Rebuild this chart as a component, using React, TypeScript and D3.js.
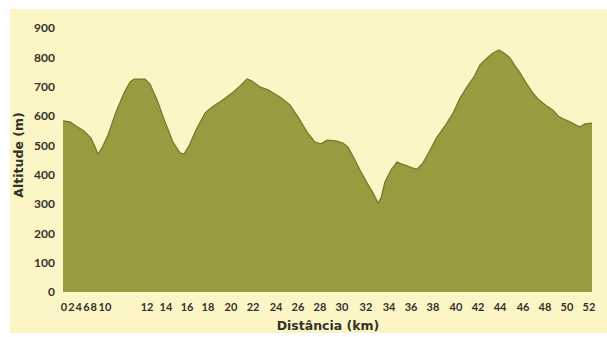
import React, { useEffect, useRef } from "react";
import * as d3 from "d3";

// Elevation profile: distance (km along the drawn axis) and altitude (m)
const distanceKm = [
  0, 0.69, 1.28, 2.06, 2.75, 3.15, 3.44, 3.83, 4.42, 5.21, 6.0, 6.59, 6.98, 8.06, 8.55, 9.24,
  10.03, 10.81, 11.5, 11.89, 12.39, 13.07, 13.96, 14.65, 15.73, 16.61, 17.4, 18.09, 18.58, 19.36,
  20.15, 21.33, 22.31, 23.1, 23.98, 24.77, 25.36, 25.95, 26.84, 27.52, 28.02, 28.6, 29.19, 29.88,
  30.47, 30.96, 31.26, 31.65, 32.24, 32.83, 33.32, 33.81, 34.31, 34.8, 35.39, 36.08, 36.76, 37.55,
  38.34, 39.03, 39.71, 40.4, 40.99, 41.68, 42.27, 42.86, 43.35, 43.94, 44.43, 44.93, 45.52, 46.2,
  46.69, 47.18, 47.68, 48.17, 48.66, 49.15, 49.84, 50.43, 50.82, 51.31, 52,
];
const altitudeM = [
  583, 580, 566, 549, 525, 494, 470, 491, 535, 614, 678, 716, 726, 726, 709, 655,
  580, 511, 474, 470, 498, 552, 610, 631, 655, 678, 702, 726, 719, 699,
  689, 665, 638, 597, 546, 511, 505, 518, 515, 508, 494, 457, 416, 372,
  338, 303, 320, 375, 416, 443, 436, 430, 423, 419, 440, 484, 528, 566,
  610, 661, 699, 733, 774, 798, 815, 825, 815, 798, 771, 747, 713, 678,
  658, 644, 631, 620, 600, 590, 580, 569, 563, 573, 576,
];

// X tick labels as printed, and where along the axis each one sits
const xTickLabels = [
  "0", "2", "4", "6", "8", "10", "12", "14", "16", "18", "20", "22", "24", "26",
  "28", "30", "32", "34", "36", "38", "40", "42", "44", "46", "48", "50", "52",
];
const xTickAtKm = [
  0.1, 0.82, 1.55, 2.3, 3.02, 4.12, 8.26, 10.12, 12.19, 14.25, 16.51, 18.68, 20.94, 23.1,
  25.26, 27.42, 29.78, 32.05, 34.21, 36.37, 38.63, 40.8, 42.96, 45.22, 47.38, 49.54, 51.7,
];
const yTicks = [0, 100, 200, 300, 400, 500, 600, 700, 800, 900];

const W = 607;
const H = 337;
const plot = { left: 63, right: 592, top: 28, bottom: 292 };
const FONT = "Lato, 'DejaVu Sans', sans-serif";
const TITLE_FONT = "'DejaVu Sans', sans-serif";
const TEXT = "#33332a";

export default function App() {
  const ref = useRef<SVGSVGElement>(null);

  useEffect(() => {
    const svg = d3.select(ref.current);
    svg.selectAll("*").remove();

    const x = d3.scaleLinear().domain([0, 52]).range([plot.left, plot.right]);
    const y = d3.scaleLinear().domain([0, 900]).range([plot.bottom, plot.top]);

    svg.append("rect").attr("width", W).attr("height", H).attr("fill", "#ffffff");
    svg.append("rect").attr("x", 10).attr("y", 9).attr("width", W - 10).attr("height", 324).attr("fill", "#fcf6c6");

    const pts = distanceKm.map((d, i) => [d, altitudeM[i]] as [number, number]);
    const area = d3.area<[number, number]>()
      .x((d) => x(d[0]))
      .y0(y(0))
      .y1((d) => y(d[1]));
    svg.append("path").attr("d", area(pts)).attr("fill", "#9a9a41");
    const line = d3.line<[number, number]>().x((d) => x(d[0])).y((d) => y(d[1]));
    svg.append("path").attr("d", line(pts)).attr("fill", "none").attr("stroke", "#7a7a2c").attr("stroke-width", 1.3);

    // y ticks
    svg.append("g").selectAll("text").data(yTicks).join("text")
      .attr("x", 55).attr("y", (d) => y(d)).attr("dy", "0.35em")
      .attr("text-anchor", "end")
      .attr("font-family", FONT).attr("font-size", 12).attr("font-weight", 700)
      .attr("fill", TEXT).text((d) => String(d));

    // x ticks
    svg.append("g").selectAll("text").data(xTickLabels).join("text")
      .attr("x", (_d, i) => x(xTickAtKm[i])).attr("y", 311)
      .attr("text-anchor", "middle")
      .attr("font-family", FONT).attr("font-size", 11).attr("font-weight", 700)
      .attr("fill", TEXT).text((d) => d);

    svg.append("text")
      .attr("transform", `translate(23,155) rotate(-90)`)
      .attr("text-anchor", "middle")
      .attr("font-family", TITLE_FONT).attr("font-size", 12.5).attr("font-weight", 700)
      .attr("fill", TEXT).text("Altitude (m)");

    svg.append("text")
      .attr("x", 328).attr("y", 330)
      .attr("text-anchor", "middle")
      .attr("font-family", TITLE_FONT).attr("font-size", 12.5).attr("font-weight", 700)
      .attr("fill", TEXT).text("Distância (km)");
  }, []);

  return (
    <svg ref={ref} width={W} height={H} style={{ position: "absolute", left: 0, top: 0 }} />
  );
}
